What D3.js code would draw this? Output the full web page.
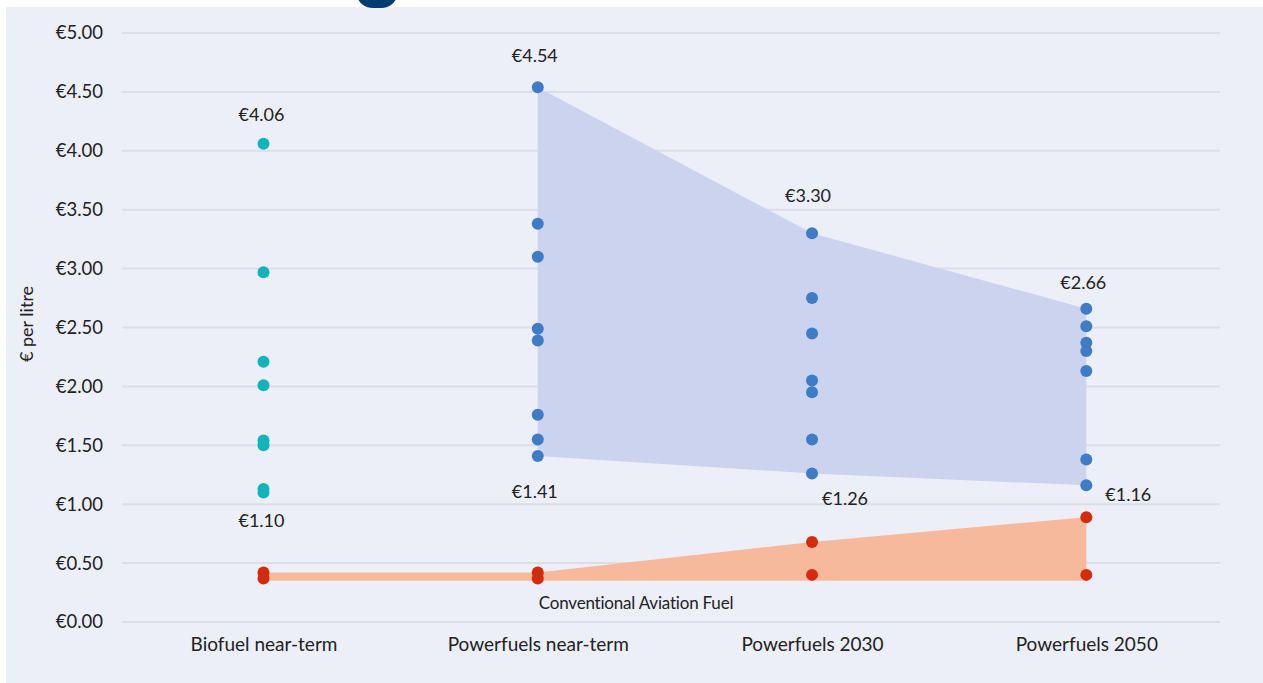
<!DOCTYPE html>
<html>
<head>
<meta charset="utf-8">
<script src="https://cdn.jsdelivr.net/npm/d3@7"></script>
<style>
  html, body { margin: 0; padding: 0; background: #ffffff; }
  svg { display: block; }
  text { font-family: Lato, "Open Sans", sans-serif; fill: #222; }
</style>
</head>
<body>
<svg id="chart" width="1263" height="683"></svg>
<script>
// Fuel pathways shown along the x axis
const categories = ["Biofuel near-term", "Powerfuels near-term", "Powerfuels 2030", "Powerfuels 2050"];

// Individual cost estimates, € per litre
const biofuelNearTerm = [4.06, 2.97, 2.21, 2.01, 1.54, 1.50, 1.13, 1.10];
const powerfuelsNearTerm = [4.54, 3.38, 3.10, 2.49, 2.39, 1.76, 1.55, 1.41];
const powerfuels2030 = [3.30, 2.75, 2.45, 2.05, 1.95, 1.55, 1.26];
const powerfuels2050 = [2.66, 2.51, 2.37, 2.30, 2.13, 1.38, 1.16];

// Conventional aviation fuel reference prices per column
const conventionalHigh = [0.42, 0.42, 0.68, 0.89];
const conventionalLow = [0.37, 0.37, 0.40, 0.40];
const conventionalBandFloor = [0.35, 0.35, 0.35, 0.35];

// Range labels (max / min) per column
const rangeMax = [4.06, 4.54, 3.30, 2.66];
const rangeMin = [1.10, 1.41, 1.26, 1.16];

// Y axis ticks
const yTicks = [0, 0.5, 1, 1.5, 2, 2.5, 3, 3.5, 4, 4.5, 5];

const svg = d3.select("#chart");
const W = 1263, H = 683;

// panel background
svg.append("rect").attr("x", 6).attr("y", 7).attr("width", W - 6).attr("height", H - 7).attr("fill", "#eceef8");
// logo tab peeking in at the top edge
svg.append("rect").attr("x", 357).attr("y", -20).attr("width", 40).attr("height", 28).attr("rx", 16).attr("fill", "#043a70");

const plotLeft = 122, plotRight = 1220;
const x = d3.scalePoint().domain(categories).range([263.5, 1086.3]);
const y = d3.scaleLinear().domain([0, 5]).range([622, 33]);

// gridlines
svg.append("g").selectAll("line").data(yTicks).join("line")
  .attr("x1", plotLeft).attr("x2", plotRight)
  .attr("y1", d => y(d)).attr("y2", d => y(d))
  .attr("stroke", "#dedde5").attr("stroke-width", 2);

// y axis labels
const yAxis = d3.axisLeft(y).tickValues(yTicks).tickSize(0).tickPadding(0)
  .tickFormat(d => "€" + d3.format(".2f")(d));
const gy = svg.append("g").attr("transform", "translate(103,0)").call(yAxis);
gy.select(".domain").remove();
gy.selectAll("text").style("font-size", "18.5px").style("font-family", "Lato, sans-serif").attr("fill", "#222");

// y axis title
svg.append("text")
  .attr("transform", "translate(33,324) rotate(-90)")
  .attr("text-anchor", "middle")
  .style("font-size", "18px")
  .text("€ per litre");

// x axis labels
const xAxis = d3.axisBottom(x).tickSize(0).tickPadding(0);
const gx = svg.append("g").attr("transform", "translate(0,637)").call(xAxis);
gx.select(".domain").remove();
gx.selectAll("text").style("font-size", "19px").style("font-family", "Lato, sans-serif").attr("fill", "#222");

// powerfuel range band
const pfCats = categories.slice(1);
const pfMax = rangeMax.slice(1), pfMin = rangeMin.slice(1);
const bandArea = d3.area()
  .x(d => x(d.c)).y0(d => y(d.lo)).y1(d => y(d.hi));
svg.append("path")
  .datum(pfCats.map((c, i) => ({ c, hi: pfMax[i], lo: pfMin[i] })))
  .attr("d", bandArea)
  .attr("fill", "#cbd3ee");

// conventional fuel band
svg.append("path")
  .datum(categories.map((c, i) => ({ c, hi: conventionalHigh[i], lo: conventionalBandFloor[i] })))
  .attr("d", bandArea)
  .attr("fill", "#f7b99b");

svg.append("text")
  .attr("x", 636).attr("y", 609)
  .attr("text-anchor", "middle")
  .style("font-size", "17px")
  .style("letter-spacing", "-0.2px")
  .text("Conventional Aviation Fuel");

// dots
const series = [
  { c: categories[0], vals: biofuelNearTerm, color: "#12b4bb" },
  { c: categories[1], vals: powerfuelsNearTerm, color: "#3e7cc5" },
  { c: categories[2], vals: powerfuels2030, color: "#3e7cc5" },
  { c: categories[3], vals: powerfuels2050, color: "#3e7cc5" }
];
const points = [];
series.forEach(s => s.vals.forEach(v => points.push({ c: s.c, v, color: s.color })));
categories.forEach((c, i) => {
  points.push({ c, v: conventionalHigh[i], color: "#d42b0d" });
  points.push({ c, v: conventionalLow[i], color: "#d42b0d" });
});
svg.append("g").selectAll("circle").data(points).join("circle")
  .attr("cx", d => x(d.c)).attr("cy", d => y(d.v)).attr("r", 6)
  .attr("fill", d => d.color);

// value labels: offsets relative to each dot
const maxOffsets = [[-2, -23], [-3, -25], [-4, -31], [-3, -20]];
const minOffsets = [[-2, 35], [-3, 42], [33, 31], [42, 16]];
const fmt = v => "€" + d3.format(".2f")(v);
svg.append("g").selectAll("text").data(categories).join("text")
  .attr("x", (c, i) => x(c) + maxOffsets[i][0])
  .attr("y", (c, i) => y(rangeMax[i]) + maxOffsets[i][1])
  .attr("text-anchor", "middle")
  .style("font-size", "18px")
  .text((c, i) => fmt(rangeMax[i]));
svg.append("g").selectAll("text").data(categories).join("text")
  .attr("x", (c, i) => x(c) + minOffsets[i][0])
  .attr("y", (c, i) => y(rangeMin[i]) + minOffsets[i][1])
  .attr("text-anchor", "middle")
  .style("font-size", "18px")
  .text((c, i) => fmt(rangeMin[i]));
</script>
</body>
</html>
